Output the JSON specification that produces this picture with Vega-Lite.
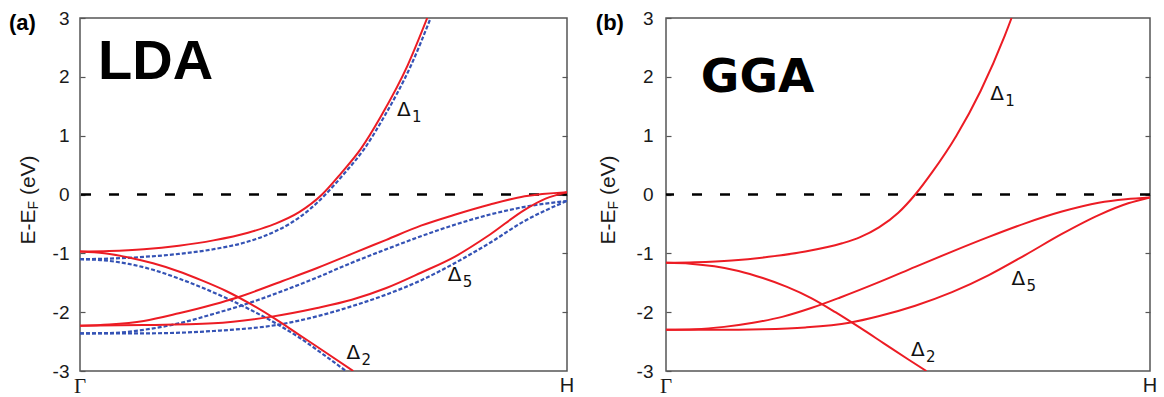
{
 "$schema": "https://vega.github.io/schema/vega-lite/v6.json",
 "background": "white",
 "padding": {"left": 8, "top": 8, "right": 0, "bottom": 0},
 "autosize": {"type": "pad"},
 "config": {
  "view": {"stroke": "#555555", "strokeWidth": 1.5},
  "axis": {"domain": false, "grid": false, "labelFont": "Liberation Sans", "labelFontSize": 19, "labelColor": "#1a1a1a", "tickColor": "#555555", "tickWidth": 1.2},
  "concat": {"spacing": 20}
 },
 "datasets": {
  "bands": [
   {"panel":"a","source":"primary","band":"d1","x":0,"e":-0.97},
   {"panel":"a","source":"primary","band":"d1","x":0.06,"e":-0.96},
   {"panel":"a","source":"primary","band":"d1","x":0.131,"e":-0.93},
   {"panel":"a","source":"primary","band":"d1","x":0.203,"e":-0.87},
   {"panel":"a","source":"primary","band":"d1","x":0.274,"e":-0.78},
   {"panel":"a","source":"primary","band":"d1","x":0.345,"e":-0.65},
   {"panel":"a","source":"primary","band":"d1","x":0.40,"e":-0.50},
   {"panel":"a","source":"primary","band":"d1","x":0.45,"e":-0.30},
   {"panel":"a","source":"primary","band":"d1","x":0.497,"e":0.0},
   {"panel":"a","source":"primary","band":"d1","x":0.536,"e":0.36},
   {"panel":"a","source":"primary","band":"d1","x":0.577,"e":0.78},
   {"panel":"a","source":"primary","band":"d1","x":0.618,"e":1.33},
   {"panel":"a","source":"primary","band":"d1","x":0.673,"e":2.2},
   {"panel":"a","source":"primary","band":"d1","x":0.713,"e":3.0},
   {"panel":"a","source":"primary","band":"d2","x":0,"e":-0.97},
   {"panel":"a","source":"primary","band":"d2","x":0.05,"e":-1.0},
   {"panel":"a","source":"primary","band":"d2","x":0.1,"e":-1.07},
   {"panel":"a","source":"primary","band":"d2","x":0.15,"e":-1.17},
   {"panel":"a","source":"primary","band":"d2","x":0.2,"e":-1.30},
   {"panel":"a","source":"primary","band":"d2","x":0.25,"e":-1.46},
   {"panel":"a","source":"primary","band":"d2","x":0.3,"e":-1.64},
   {"panel":"a","source":"primary","band":"d2","x":0.35,"e":-1.86},
   {"panel":"a","source":"primary","band":"d2","x":0.4,"e":-2.11},
   {"panel":"a","source":"primary","band":"d2","x":0.45,"e":-2.385},
   {"panel":"a","source":"primary","band":"d2","x":0.5,"e":-2.66},
   {"panel":"a","source":"primary","band":"d2","x":0.561,"e":-3.0},
   {"panel":"a","source":"primary","band":"d5u","x":0,"e":-2.23},
   {"panel":"a","source":"primary","band":"d5u","x":0.06,"e":-2.21},
   {"panel":"a","source":"primary","band":"d5u","x":0.131,"e":-2.15},
   {"panel":"a","source":"primary","band":"d5u","x":0.203,"e":-2.02},
   {"panel":"a","source":"primary","band":"d5u","x":0.274,"e":-1.87},
   {"panel":"a","source":"primary","band":"d5u","x":0.323,"e":-1.75},
   {"panel":"a","source":"primary","band":"d5u","x":0.416,"e":-1.47},
   {"panel":"a","source":"primary","band":"d5u","x":0.487,"e":-1.25},
   {"panel":"a","source":"primary","band":"d5u","x":0.558,"e":-1.01},
   {"panel":"a","source":"primary","band":"d5u","x":0.629,"e":-0.77},
   {"panel":"a","source":"primary","band":"d5u","x":0.700,"e":-0.53},
   {"panel":"a","source":"primary","band":"d5u","x":0.771,"e":-0.34},
   {"panel":"a","source":"primary","band":"d5u","x":0.842,"e":-0.17},
   {"panel":"a","source":"primary","band":"d5u","x":0.913,"e":-0.03},
   {"panel":"a","source":"primary","band":"d5u","x":1.0,"e":0.04},
   {"panel":"a","source":"primary","band":"d5l","x":0,"e":-2.23},
   {"panel":"a","source":"primary","band":"d5l","x":0.131,"e":-2.22},
   {"panel":"a","source":"primary","band":"d5l","x":0.274,"e":-2.19},
   {"panel":"a","source":"primary","band":"d5l","x":0.391,"e":-2.08},
   {"panel":"a","source":"primary","band":"d5l","x":0.487,"e":-1.93},
   {"panel":"a","source":"primary","band":"d5l","x":0.558,"e":-1.79},
   {"panel":"a","source":"primary","band":"d5l","x":0.629,"e":-1.59},
   {"panel":"a","source":"primary","band":"d5l","x":0.700,"e":-1.33},
   {"panel":"a","source":"primary","band":"d5l","x":0.771,"e":-1.05},
   {"panel":"a","source":"primary","band":"d5l","x":0.842,"e":-0.68},
   {"panel":"a","source":"primary","band":"d5l","x":0.913,"e":-0.26},
   {"panel":"a","source":"primary","band":"d5l","x":0.956,"e":-0.07},
   {"panel":"a","source":"primary","band":"d5l","x":1.0,"e":0.04},
   {"panel":"a","source":"comparison","band":"d1","x":0,"e":-1.10},
   {"panel":"a","source":"comparison","band":"d1","x":0.06,"e":-1.09},
   {"panel":"a","source":"comparison","band":"d1","x":0.131,"e":-1.06},
   {"panel":"a","source":"comparison","band":"d1","x":0.203,"e":-1.01},
   {"panel":"a","source":"comparison","band":"d1","x":0.274,"e":-0.93},
   {"panel":"a","source":"comparison","band":"d1","x":0.345,"e":-0.80},
   {"panel":"a","source":"comparison","band":"d1","x":0.40,"e":-0.63},
   {"panel":"a","source":"comparison","band":"d1","x":0.432,"e":-0.49},
   {"panel":"a","source":"comparison","band":"d1","x":0.472,"e":-0.25},
   {"panel":"a","source":"comparison","band":"d1","x":0.504,"e":0.0},
   {"panel":"a","source":"comparison","band":"d1","x":0.543,"e":0.36},
   {"panel":"a","source":"comparison","band":"d1","x":0.584,"e":0.78},
   {"panel":"a","source":"comparison","band":"d1","x":0.625,"e":1.33},
   {"panel":"a","source":"comparison","band":"d1","x":0.680,"e":2.2},
   {"panel":"a","source":"comparison","band":"d1","x":0.720,"e":3.0},
   {"panel":"a","source":"comparison","band":"d2","x":0,"e":-1.10},
   {"panel":"a","source":"comparison","band":"d2","x":0.05,"e":-1.12},
   {"panel":"a","source":"comparison","band":"d2","x":0.1,"e":-1.18},
   {"panel":"a","source":"comparison","band":"d2","x":0.15,"e":-1.28},
   {"panel":"a","source":"comparison","band":"d2","x":0.2,"e":-1.42},
   {"panel":"a","source":"comparison","band":"d2","x":0.25,"e":-1.58},
   {"panel":"a","source":"comparison","band":"d2","x":0.3,"e":-1.76},
   {"panel":"a","source":"comparison","band":"d2","x":0.35,"e":-1.96},
   {"panel":"a","source":"comparison","band":"d2","x":0.4,"e":-2.18},
   {"panel":"a","source":"comparison","band":"d2","x":0.45,"e":-2.43},
   {"panel":"a","source":"comparison","band":"d2","x":0.5,"e":-2.72},
   {"panel":"a","source":"comparison","band":"d2","x":0.546,"e":-3.0},
   {"panel":"a","source":"comparison","band":"d5u","x":0,"e":-2.36},
   {"panel":"a","source":"comparison","band":"d5u","x":0.06,"e":-2.355},
   {"panel":"a","source":"comparison","band":"d5u","x":0.131,"e":-2.30},
   {"panel":"a","source":"comparison","band":"d5u","x":0.203,"e":-2.19},
   {"panel":"a","source":"comparison","band":"d5u","x":0.274,"e":-2.03},
   {"panel":"a","source":"comparison","band":"d5u","x":0.338,"e":-1.87},
   {"panel":"a","source":"comparison","band":"d5u","x":0.416,"e":-1.64},
   {"panel":"a","source":"comparison","band":"d5u","x":0.487,"e":-1.41},
   {"panel":"a","source":"comparison","band":"d5u","x":0.558,"e":-1.16},
   {"panel":"a","source":"comparison","band":"d5u","x":0.629,"e":-0.93},
   {"panel":"a","source":"comparison","band":"d5u","x":0.700,"e":-0.71},
   {"panel":"a","source":"comparison","band":"d5u","x":0.771,"e":-0.51},
   {"panel":"a","source":"comparison","band":"d5u","x":0.842,"e":-0.34},
   {"panel":"a","source":"comparison","band":"d5u","x":0.913,"e":-0.21},
   {"panel":"a","source":"comparison","band":"d5u","x":1.0,"e":-0.11},
   {"panel":"a","source":"comparison","band":"d5l","x":0,"e":-2.36},
   {"panel":"a","source":"comparison","band":"d5l","x":0.131,"e":-2.36},
   {"panel":"a","source":"comparison","band":"d5l","x":0.274,"e":-2.32},
   {"panel":"a","source":"comparison","band":"d5l","x":0.409,"e":-2.21},
   {"panel":"a","source":"comparison","band":"d5l","x":0.487,"e":-2.07},
   {"panel":"a","source":"comparison","band":"d5l","x":0.558,"e":-1.90},
   {"panel":"a","source":"comparison","band":"d5l","x":0.629,"e":-1.70},
   {"panel":"a","source":"comparison","band":"d5l","x":0.700,"e":-1.46},
   {"panel":"a","source":"comparison","band":"d5l","x":0.771,"e":-1.16},
   {"panel":"a","source":"comparison","band":"d5l","x":0.842,"e":-0.82},
   {"panel":"a","source":"comparison","band":"d5l","x":0.913,"e":-0.45},
   {"panel":"a","source":"comparison","band":"d5l","x":0.956,"e":-0.27},
   {"panel":"a","source":"comparison","band":"d5l","x":1.0,"e":-0.11},
   {"panel":"b","source":"primary","band":"d1","x":0,"e":-1.16},
   {"panel":"b","source":"primary","band":"d1","x":0.06,"e":-1.15},
   {"panel":"b","source":"primary","band":"d1","x":0.136,"e":-1.12},
   {"panel":"b","source":"primary","band":"d1","x":0.212,"e":-1.06},
   {"panel":"b","source":"primary","band":"d1","x":0.288,"e":-0.97},
   {"panel":"b","source":"primary","band":"d1","x":0.364,"e":-0.83},
   {"panel":"b","source":"primary","band":"d1","x":0.40,"e":-0.73},
   {"panel":"b","source":"primary","band":"d1","x":0.44,"e":-0.56},
   {"panel":"b","source":"primary","band":"d1","x":0.48,"e":-0.31},
   {"panel":"b","source":"primary","band":"d1","x":0.515,"e":0.0},
   {"panel":"b","source":"primary","band":"d1","x":0.55,"e":0.38},
   {"panel":"b","source":"primary","band":"d1","x":0.60,"e":1.0},
   {"panel":"b","source":"primary","band":"d1","x":0.65,"e":1.76},
   {"panel":"b","source":"primary","band":"d1","x":0.70,"e":2.7},
   {"panel":"b","source":"primary","band":"d1","x":0.714,"e":3.0},
   {"panel":"b","source":"primary","band":"d2","x":0,"e":-1.16},
   {"panel":"b","source":"primary","band":"d2","x":0.05,"e":-1.175},
   {"panel":"b","source":"primary","band":"d2","x":0.1,"e":-1.22},
   {"panel":"b","source":"primary","band":"d2","x":0.15,"e":-1.30},
   {"panel":"b","source":"primary","band":"d2","x":0.2,"e":-1.42},
   {"panel":"b","source":"primary","band":"d2","x":0.25,"e":-1.57},
   {"panel":"b","source":"primary","band":"d2","x":0.3,"e":-1.76},
   {"panel":"b","source":"primary","band":"d2","x":0.35,"e":-2.00},
   {"panel":"b","source":"primary","band":"d2","x":0.4,"e":-2.26},
   {"panel":"b","source":"primary","band":"d2","x":0.45,"e":-2.53},
   {"panel":"b","source":"primary","band":"d2","x":0.5,"e":-2.80},
   {"panel":"b","source":"primary","band":"d2","x":0.538,"e":-3.0},
   {"panel":"b","source":"primary","band":"d5u","x":0,"e":-2.30},
   {"panel":"b","source":"primary","band":"d5u","x":0.06,"e":-2.29},
   {"panel":"b","source":"primary","band":"d5u","x":0.12,"e":-2.25},
   {"panel":"b","source":"primary","band":"d5u","x":0.18,"e":-2.18},
   {"panel":"b","source":"primary","band":"d5u","x":0.24,"e":-2.08},
   {"panel":"b","source":"primary","band":"d5u","x":0.30,"e":-1.93},
   {"panel":"b","source":"primary","band":"d5u","x":0.36,"e":-1.75},
   {"panel":"b","source":"primary","band":"d5u","x":0.44,"e":-1.49},
   {"panel":"b","source":"primary","band":"d5u","x":0.515,"e":-1.23},
   {"panel":"b","source":"primary","band":"d5u","x":0.591,"e":-0.97},
   {"panel":"b","source":"primary","band":"d5u","x":0.667,"e":-0.72},
   {"panel":"b","source":"primary","band":"d5u","x":0.742,"e":-0.49},
   {"panel":"b","source":"primary","band":"d5u","x":0.818,"e":-0.29},
   {"panel":"b","source":"primary","band":"d5u","x":0.894,"e":-0.14},
   {"panel":"b","source":"primary","band":"d5u","x":0.95,"e":-0.08},
   {"panel":"b","source":"primary","band":"d5u","x":1.0,"e":-0.05},
   {"panel":"b","source":"primary","band":"d5l","x":0,"e":-2.30},
   {"panel":"b","source":"primary","band":"d5l","x":0.1,"e":-2.30},
   {"panel":"b","source":"primary","band":"d5l","x":0.2,"e":-2.29},
   {"panel":"b","source":"primary","band":"d5l","x":0.288,"e":-2.26},
   {"panel":"b","source":"primary","band":"d5l","x":0.379,"e":-2.18},
   {"panel":"b","source":"primary","band":"d5l","x":0.439,"e":-2.07},
   {"panel":"b","source":"primary","band":"d5l","x":0.515,"e":-1.89},
   {"panel":"b","source":"primary","band":"d5l","x":0.591,"e":-1.66},
   {"panel":"b","source":"primary","band":"d5l","x":0.667,"e":-1.37},
   {"panel":"b","source":"primary","band":"d5l","x":0.742,"e":-1.03},
   {"panel":"b","source":"primary","band":"d5l","x":0.818,"e":-0.67},
   {"panel":"b","source":"primary","band":"d5l","x":0.894,"e":-0.35},
   {"panel":"b","source":"primary","band":"d5l","x":0.955,"e":-0.15},
   {"panel":"b","source":"primary","band":"d5l","x":1.0,"e":-0.05}
  ],
  "notes": [
   {"panel":"a","kind":"delta","x":0.651,"e":1.44,"text":"Δ","sub":"1"},
   {"panel":"a","kind":"delta","x":0.547,"e":-2.69,"text":"Δ","sub":"2"},
   {"panel":"a","kind":"delta","x":0.755,"e":-1.37,"text":"Δ","sub":"5"},
   {"panel":"b","kind":"delta","x":0.670,"e":1.70,"text":"Δ","sub":"1"},
   {"panel":"b","kind":"delta","x":0.506,"e":-2.64,"text":"Δ","sub":"2"},
   {"panel":"b","kind":"delta","x":0.714,"e":-1.44,"text":"Δ","sub":"5"},
   {"panel":"a","kind":"name","x":0.037,"e":1.963,"text":"LDA"},
   {"panel":"b","kind":"name","x":0.072,"e":1.74,"text":"GGA"},
   {"panel":"a","kind":"tag","x":-0.146,"e":2.92,"text":"(a)"},
   {"panel":"b","kind":"tag","x":-0.145,"e":2.92,"text":"(b)"},
   {"panel":"a","kind":"ytitle","x":-0.1047,"e":-0.85,"text":"E-E"},
   {"panel":"a","kind":"ytitle","x":-0.1047,"e":-0.01,"text":"(eV)"},
   {"panel":"a","kind":"ysub","x":-0.1047,"e":-0.255,"text":"F"},
   {"panel":"b","kind":"ytitle","x":-0.1178,"e":-0.85,"text":"E-E"},
   {"panel":"b","kind":"ytitle","x":-0.1178,"e":-0.01,"text":"(eV)"},
   {"panel":"b","kind":"ysub","x":-0.1178,"e":-0.255,"text":"F"},
   {"panel":"a","kind":"kgamma","x":0,"e":-3,"text":"Γ"},
   {"panel":"a","kind":"kh","x":1,"e":-3,"text":"H"},
   {"panel":"b","kind":"kgamma","x":0,"e":-3,"text":"Γ"},
   {"panel":"b","kind":"kh","x":1,"e":-3,"text":"H"}
  ]
 },
 "hconcat": [
  {
   "width": 487, "height": 353,
   "resolve": {"axis": {"y": "independent"}},
   "layer": [
    {"data": {"values": [{"e": 0}]},
     "mark": {"type": "rule", "color": "#000000", "strokeWidth": 2.5, "strokeDash": [10, 18]},
     "encoding": {"y": {"field": "e", "type": "quantitative", "scale": {"domain": [-3, 3], "nice": false}, "axis": {"orient": "right", "labels": false, "title": null, "tickSize": -5, "values": [-2, -1, 0, 1, 2]}}}},
    {"data": {"name": "bands"}, "transform": [{"filter": "datum.panel == 'a' && datum.source == 'comparison'"}],
     "mark": {"type": "line", "interpolate": "monotone", "color": "#3553b5", "strokeWidth": 2.2, "strokeDash": [4, 2], "clip": true},
     "encoding": {
      "x": {"field": "x", "type": "quantitative", "scale": {"domain": [0, 1], "nice": false}, "axis": null},
      "y": {"field": "e", "type": "quantitative", "scale": {"domain": [-3, 3], "nice": false}, "axis": {"orient": "left", "values": [-3, -2, -1, 0, 1, 2, 3], "labelExpr": "'' + datum.value", "tickSize": -5, "labelPadding": 16, "title": null, "labelOverlap": false}},
      "detail": {"field": "band"}}},
    {"data": {"name": "bands"}, "transform": [{"filter": "datum.panel == 'a' && datum.source == 'primary'"}],
     "mark": {"type": "line", "interpolate": "monotone", "color": "#ec1c24", "strokeWidth": 2, "clip": true},
     "encoding": {
      "x": {"field": "x", "type": "quantitative", "scale": {"domain": [0, 1], "nice": false}, "axis": null},
      "y": {"field": "e", "type": "quantitative", "scale": {"domain": [-3, 3], "nice": false}, "axis": null},
      "detail": {"field": "band"}}},
    {"data": {"name": "notes"}, "transform": [{"filter": "datum.panel == 'a' && datum.kind == 'delta'"}],
     "mark": {"type": "text", "font": "DejaVu Sans", "fontSize": 20, "align": "left", "baseline": "middle", "color": "#111111"},
     "encoding": {
      "x": {"field": "x", "type": "quantitative", "scale": {"domain": [0, 1], "nice": false}, "axis": null},
      "y": {"field": "e", "type": "quantitative", "scale": {"domain": [-3, 3], "nice": false}, "axis": null},
      "text": {"field": "text"}}},
    {"data": {"name": "notes"}, "transform": [{"filter": "datum.panel == 'a' && datum.kind == 'delta'"}],
     "mark": {"type": "text", "font": "DejaVu Sans", "fontSize": 15, "align": "left", "baseline": "middle", "dx": 15, "dy": 7, "color": "#111111"},
     "encoding": {
      "x": {"field": "x", "type": "quantitative", "scale": {"domain": [0, 1], "nice": false}, "axis": null},
      "y": {"field": "e", "type": "quantitative", "scale": {"domain": [-3, 3], "nice": false}, "axis": null},
      "text": {"field": "sub"}}},
    {"data": {"name": "notes"}, "transform": [{"filter": "datum.panel == 'a' && datum.kind == 'name'"}],
     "mark": {"type": "text", "font": "Liberation Sans", "fontWeight": "bold", "fontSize": 56, "align": "left", "baseline": "alphabetic", "color": "#000000"},
     "encoding": {
      "x": {"field": "x", "type": "quantitative", "scale": {"domain": [0, 1], "nice": false}, "axis": null},
      "y": {"field": "e", "type": "quantitative", "scale": {"domain": [-3, 3], "nice": false}, "axis": null},
      "text": {"field": "text"}}},
    {"data": {"name": "notes"}, "transform": [{"filter": "datum.panel == 'a' && datum.kind == 'tag'"}],
     "mark": {"type": "text", "font": "Liberation Sans", "fontWeight": "bold", "fontSize": 22, "align": "left", "baseline": "middle", "color": "#000000"},
     "encoding": {
      "x": {"field": "x", "type": "quantitative", "scale": {"domain": [0, 1], "nice": false}, "axis": null},
      "y": {"field": "e", "type": "quantitative", "scale": {"domain": [-3, 3], "nice": false}, "axis": null},
      "text": {"field": "text"}}},
    {"data": {"name": "notes"}, "transform": [{"filter": "datum.panel == 'a' && datum.kind == 'ytitle'"}],
     "mark": {"type": "text", "font": "Liberation Sans", "fontSize": 21, "angle": 270, "align": "left", "baseline": "middle", "color": "#1a1a1a"},
     "encoding": {
      "x": {"field": "x", "type": "quantitative", "scale": {"domain": [0, 1], "nice": false}, "axis": null},
      "y": {"field": "e", "type": "quantitative", "scale": {"domain": [-3, 3], "nice": false}, "axis": null},
      "text": {"field": "text"}}},
    {"data": {"name": "notes"}, "transform": [{"filter": "datum.panel == 'a' && datum.kind == 'ysub'"}],
     "mark": {"type": "text", "font": "Liberation Sans", "fontSize": 14, "angle": 270, "align": "left", "baseline": "middle", "dy": 5, "color": "#1a1a1a"},
     "encoding": {
      "x": {"field": "x", "type": "quantitative", "scale": {"domain": [0, 1], "nice": false}, "axis": null},
      "y": {"field": "e", "type": "quantitative", "scale": {"domain": [-3, 3], "nice": false}, "axis": null},
      "text": {"field": "text"}}},
    {"data": {"name": "notes"}, "transform": [{"filter": "datum.panel == 'a' && datum.kind == 'kgamma'"}],
     "mark": {"type": "text", "font": "Liberation Serif", "fontSize": 21, "align": "center", "baseline": "top", "dy": 5, "color": "#1a1a1a"},
     "encoding": {
      "x": {"field": "x", "type": "quantitative", "scale": {"domain": [0, 1], "nice": false}, "axis": null},
      "y": {"field": "e", "type": "quantitative", "scale": {"domain": [-3, 3], "nice": false}, "axis": null},
      "text": {"field": "text"}}},
    {"data": {"name": "notes"}, "transform": [{"filter": "datum.panel == 'a' && datum.kind == 'kh'"}],
     "mark": {"type": "text", "font": "Liberation Sans", "fontSize": 20, "align": "center", "baseline": "top", "dy": 5, "color": "#1a1a1a"},
     "encoding": {
      "x": {"field": "x", "type": "quantitative", "scale": {"domain": [0, 1], "nice": false}, "axis": null},
      "y": {"field": "e", "type": "quantitative", "scale": {"domain": [-3, 3], "nice": false}, "axis": null},
      "text": {"field": "text"}}}
   ]
  },
  {
   "width": 484, "height": 353,
   "resolve": {"axis": {"y": "independent"}},
   "layer": [
    {"data": {"values": [{"e": 0}]},
     "mark": {"type": "rule", "color": "#000000", "strokeWidth": 2.5, "strokeDash": [10, 18]},
     "encoding": {"y": {"field": "e", "type": "quantitative", "scale": {"domain": [-3, 3], "nice": false}, "axis": {"orient": "right", "labels": false, "title": null, "tickSize": -5, "values": [-2, -1, 0, 1, 2]}}}},
    {"data": {"name": "bands"}, "transform": [{"filter": "datum.panel == 'b' && datum.source == 'primary'"}],
     "mark": {"type": "line", "interpolate": "monotone", "color": "#ec1c24", "strokeWidth": 2, "clip": true},
     "encoding": {
      "x": {"field": "x", "type": "quantitative", "scale": {"domain": [0, 1], "nice": false}, "axis": null},
      "y": {"field": "e", "type": "quantitative", "scale": {"domain": [-3, 3], "nice": false}, "axis": {"orient": "left", "values": [-3, -2, -1, 0, 1, 2, 3], "labelExpr": "'' + datum.value", "tickSize": -5, "labelPadding": 18, "title": null, "labelOverlap": false}},
      "detail": {"field": "band"}}},
    {"data": {"name": "notes"}, "transform": [{"filter": "datum.panel == 'b' && datum.kind == 'delta'"}],
     "mark": {"type": "text", "font": "DejaVu Sans", "fontSize": 20, "align": "left", "baseline": "middle", "color": "#111111"},
     "encoding": {
      "x": {"field": "x", "type": "quantitative", "scale": {"domain": [0, 1], "nice": false}, "axis": null},
      "y": {"field": "e", "type": "quantitative", "scale": {"domain": [-3, 3], "nice": false}, "axis": null},
      "text": {"field": "text"}}},
    {"data": {"name": "notes"}, "transform": [{"filter": "datum.panel == 'b' && datum.kind == 'delta'"}],
     "mark": {"type": "text", "font": "DejaVu Sans", "fontSize": 15, "align": "left", "baseline": "middle", "dx": 15, "dy": 7, "color": "#111111"},
     "encoding": {
      "x": {"field": "x", "type": "quantitative", "scale": {"domain": [0, 1], "nice": false}, "axis": null},
      "y": {"field": "e", "type": "quantitative", "scale": {"domain": [-3, 3], "nice": false}, "axis": null},
      "text": {"field": "sub"}}},
    {"data": {"name": "notes"}, "transform": [{"filter": "datum.panel == 'b' && datum.kind == 'name'"}],
     "mark": {"type": "text", "font": "DejaVu Sans", "fontWeight": "bold", "fontSize": 47, "align": "left", "baseline": "alphabetic", "color": "#000000"},
     "encoding": {
      "x": {"field": "x", "type": "quantitative", "scale": {"domain": [0, 1], "nice": false}, "axis": null},
      "y": {"field": "e", "type": "quantitative", "scale": {"domain": [-3, 3], "nice": false}, "axis": null},
      "text": {"field": "text"}}},
    {"data": {"name": "notes"}, "transform": [{"filter": "datum.panel == 'b' && datum.kind == 'tag'"}],
     "mark": {"type": "text", "font": "Liberation Sans", "fontWeight": "bold", "fontSize": 22, "align": "left", "baseline": "middle", "color": "#000000"},
     "encoding": {
      "x": {"field": "x", "type": "quantitative", "scale": {"domain": [0, 1], "nice": false}, "axis": null},
      "y": {"field": "e", "type": "quantitative", "scale": {"domain": [-3, 3], "nice": false}, "axis": null},
      "text": {"field": "text"}}},
    {"data": {"name": "notes"}, "transform": [{"filter": "datum.panel == 'b' && datum.kind == 'ytitle'"}],
     "mark": {"type": "text", "font": "Liberation Sans", "fontSize": 21, "angle": 270, "align": "left", "baseline": "middle", "color": "#1a1a1a"},
     "encoding": {
      "x": {"field": "x", "type": "quantitative", "scale": {"domain": [0, 1], "nice": false}, "axis": null},
      "y": {"field": "e", "type": "quantitative", "scale": {"domain": [-3, 3], "nice": false}, "axis": null},
      "text": {"field": "text"}}},
    {"data": {"name": "notes"}, "transform": [{"filter": "datum.panel == 'b' && datum.kind == 'ysub'"}],
     "mark": {"type": "text", "font": "Liberation Sans", "fontSize": 14, "angle": 270, "align": "left", "baseline": "middle", "dy": 5, "color": "#1a1a1a"},
     "encoding": {
      "x": {"field": "x", "type": "quantitative", "scale": {"domain": [0, 1], "nice": false}, "axis": null},
      "y": {"field": "e", "type": "quantitative", "scale": {"domain": [-3, 3], "nice": false}, "axis": null},
      "text": {"field": "text"}}},
    {"data": {"name": "notes"}, "transform": [{"filter": "datum.panel == 'b' && datum.kind == 'kgamma'"}],
     "mark": {"type": "text", "font": "Liberation Serif", "fontSize": 21, "align": "center", "baseline": "top", "dy": 5, "color": "#1a1a1a"},
     "encoding": {
      "x": {"field": "x", "type": "quantitative", "scale": {"domain": [0, 1], "nice": false}, "axis": null},
      "y": {"field": "e", "type": "quantitative", "scale": {"domain": [-3, 3], "nice": false}, "axis": null},
      "text": {"field": "text"}}},
    {"data": {"name": "notes"}, "transform": [{"filter": "datum.panel == 'b' && datum.kind == 'kh'"}],
     "mark": {"type": "text", "font": "Liberation Sans", "fontSize": 20, "align": "center", "baseline": "top", "dy": 5, "color": "#1a1a1a"},
     "encoding": {
      "x": {"field": "x", "type": "quantitative", "scale": {"domain": [0, 1], "nice": false}, "axis": null},
      "y": {"field": "e", "type": "quantitative", "scale": {"domain": [-3, 3], "nice": false}, "axis": null},
      "text": {"field": "text"}}}
   ]
  }
 ]
}
